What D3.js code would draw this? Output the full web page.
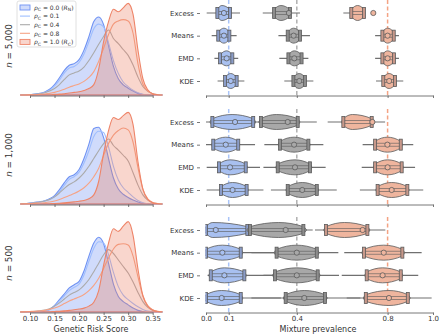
<!DOCTYPE html>
<html>
<head>
<meta charset="utf-8">
<script src="https://cdn.jsdelivr.net/npm/d3@7"></script>
<style>
  body { margin: 0; background: #fff; }
  text { font-family: "DejaVu Sans", sans-serif; fill: #333; }
</style>
</head>
<body>
<div id="chart"></div>
<script>
// ---- data ----
var sizes = ["5,000", "1,000", "500"];
var methods = ["Excess", "Means", "EMD", "KDE"];
var truePrev = [0.1, 0.4, 0.8];
var grsTicks = [0.10, 0.15, 0.20, 0.25, 0.30, 0.35];
var prevTicks = [0.0, 0.1, 0.4, 0.8, 1.0];
var legendLabels = ["0.0", "0.1", "0.4", "0.8", "1.0"];

// genetic risk score grid for the density curves
var grsGrid = [0.08, 0.09, 0.10, 0.11, 0.12, 0.13, 0.14, 0.15, 0.16, 0.17, 0.18, 0.19, 0.20, 0.21, 0.22,
               0.23, 0.24, 0.25, 0.26, 0.27, 0.28, 0.29, 0.30, 0.31, 0.32, 0.33, 0.34, 0.35, 0.36, 0.37];

// densities, n = 5,000
var d5000_00 = [0, 0, 0.05, 0.16, 0.26, 0.47, 0.88, 1.61, 2.65, 3.79, 4.57, 4.83, 5.45, 6.9, 8.98, 11.3, 12.0, 10.8, 7.6, 4.4, 2.5, 1.55, 1.05, 0.6, 0.25, 0.07, 0, 0, 0, 0];
var d5000_01 = [0, 0, 0.05, 0.1, 0.2, 0.4, 0.75, 1.4, 2.3, 3.4, 4.15, 4.4, 5.0, 6.3, 8.2, 10.2, 10.9, 10.5, 8.0, 5.3, 3.3, 2.0, 1.3, 0.75, 0.35, 0.12, 0.03, 0, 0, 0];
var d5000_04 = [0, 0, 0.05, 0.1, 0.2, 0.35, 0.6, 1.0, 1.6, 2.4, 3.1, 3.4, 3.7, 4.3, 5.3, 6.5, 7.8, 9.0, 10.0, 8.7, 7.9, 7.0, 6.1, 4.6, 2.75, 1.3, 0.57, 0.2, 0.05, 0];
var d5000_08 = [0, 0, 0.02, 0.05, 0.1, 0.15, 0.25, 0.4, 0.6, 0.9, 1.2, 1.45, 1.7, 2.1, 2.7, 3.6, 5.2, 7.2, 9.3, 10.9, 11.4, 11.6, 11.4, 9.5, 4.8, 1.7, 0.6, 0.2, 0.05, 0];
var d5000_10 = [0, 0, 0, 0, 0, 0.02, 0.05, 0.1, 0.15, 0.2, 0.3, 0.4, 0.5, 0.7, 1.0, 1.6, 4.0, 8.2, 11.3, 13.2, 12.8, 13.4, 14.1, 12.4, 6.9, 2.5, 0.8, 0.2, 0.05, 0];

// densities, n = 1,000
var d1000_00 = [0, 0.05, 0.15, 0.25, 0.35, 0.5, 0.8, 1.3, 2.2, 3.3, 4.2, 4.5, 5.3, 7.0, 9.2, 11.6, 11.8, 10.2, 7.0, 4.0, 2.3, 1.5, 1.0, 0.6, 0.3, 0.1, 0.03, 0, 0, 0];
var d1000_01 = [0, 0.05, 0.12, 0.2, 0.3, 0.45, 0.7, 1.1, 1.9, 2.9, 3.8, 4.2, 4.9, 6.3, 8.2, 10.4, 11.2, 11.0, 8.8, 5.8, 3.7, 2.5, 1.8, 1.1, 0.55, 0.2, 0.05, 0, 0, 0];
var d1000_04 = [0, 0.05, 0.1, 0.2, 0.3, 0.45, 0.7, 1.1, 1.7, 2.4, 3.0, 3.4, 4.0, 4.8, 5.8, 7.0, 8.2, 9.3, 10.0, 9.0, 8.3, 7.5, 6.6, 4.8, 2.9, 1.4, 0.6, 0.2, 0.05, 0];
var d1000_08 = [0, 0.03, 0.06, 0.1, 0.15, 0.2, 0.3, 0.45, 0.7, 1.0, 1.3, 1.6, 2.0, 2.5, 3.2, 4.2, 5.5, 7.5, 9.3, 10.6, 11.3, 11.7, 11.4, 9.5, 5.6, 2.3, 0.8, 0.25, 0.07, 0];
var d1000_10 = [0, 0, 0, 0, 0, 0.02, 0.05, 0.08, 0.12, 0.18, 0.25, 0.33, 0.42, 0.55, 0.8, 1.4, 3.5, 7.8, 11.3, 13.3, 13.0, 13.6, 14.1, 12.2, 6.5, 2.3, 0.7, 0.2, 0.05, 0];

// densities, n = 500
var d500_00 = [0, 0, 0.03, 0.06, 0.1, 0.2, 0.4, 1.0, 1.9, 2.8, 3.7, 4.2, 4.7, 6.3, 8.6, 10.6, 11.5, 10.5, 7.5, 4.3, 2.4, 1.6, 1.1, 0.6, 0.25, 0.08, 0, 0, 0, 0];
var d500_01 = [0, 0, 0.03, 0.06, 0.1, 0.2, 0.4, 0.9, 1.7, 2.5, 3.3, 3.8, 4.3, 5.7, 7.8, 9.8, 10.8, 10.6, 8.8, 6.1, 3.9, 2.6, 1.9, 1.3, 0.8, 0.4, 0.15, 0.05, 0, 0];
var d500_04 = [0, 0.02, 0.05, 0.1, 0.18, 0.3, 0.5, 0.9, 1.4, 2.0, 2.6, 3.0, 3.4, 4.1, 5.0, 6.2, 7.5, 8.8, 9.6, 9.0, 8.0, 7.0, 6.0, 4.6, 3.0, 1.6, 0.7, 0.25, 0.07, 0];
var d500_08 = [0.02, 0.04, 0.08, 0.12, 0.18, 0.25, 0.4, 0.6, 0.9, 1.3, 1.7, 2.0, 2.3, 2.7, 3.3, 4.1, 5.2, 6.7, 8.3, 9.7, 10.4, 10.5, 10.3, 8.6, 5.4, 2.5, 1.0, 0.35, 0.1, 0.03];
var d500_10 = [0, 0, 0, 0, 0, 0.02, 0.04, 0.08, 0.12, 0.18, 0.25, 0.35, 0.45, 0.6, 0.9, 1.5, 3.3, 7.2, 10.6, 12.8, 12.4, 13.2, 13.9, 11.8, 6.6, 2.5, 0.9, 0.3, 0.08, 0];

// estimated prevalences: per method, per true prevalence
// [whisker low, box low, violin peak, box high, whisker high, marker]
var est5000 = [
  [[0.003, 0.05, 0.07, 0.106, 0.15, 0.079], [0.25, 0.30, 0.33, 0.37, 0.414, 0.365], [0.605, 0.64, 0.668, 0.696, 0.70, 0.737]],
  [[0.025, 0.054, 0.079, 0.103, 0.135, 0.079], [0.319, 0.36, 0.386, 0.414, 0.458, 0.386], [0.745, 0.777, 0.80, 0.827, 0.85, 0.80]],
  [[0.037, 0.062, 0.091, 0.116, 0.142, 0.091], [0.323, 0.363, 0.389, 0.421, 0.451, 0.389], [0.745, 0.777, 0.80, 0.828, 0.85, 0.80]],
  [[0.051, 0.084, 0.109, 0.135, 0.169, 0.109], [0.345, 0.385, 0.411, 0.436, 0.473, 0.411], [0.749, 0.781, 0.807, 0.833, 0.869, 0.807]]
];
var est1000 = [
  [[0.0, 0.028, 0.115, 0.208, 0.23, 0.128], [0.23, 0.242, 0.31, 0.404, 0.488, 0.36], [0.536, 0.605, 0.645, 0.73, 0.789, 0.733]],
  [[0.0, 0.032, 0.087, 0.142, 0.216, 0.087], [0.257, 0.326, 0.388, 0.451, 0.517, 0.388], [0.69, 0.745, 0.799, 0.858, 0.913, 0.799]],
  [[0.003, 0.057, 0.106, 0.175, 0.238, 0.106], [0.253, 0.316, 0.392, 0.458, 0.527, 0.392], [0.686, 0.745, 0.80, 0.862, 0.921, 0.80]],
  [[0.003, 0.066, 0.117, 0.179, 0.253, 0.117], [0.286, 0.36, 0.424, 0.488, 0.576, 0.424], [0.678, 0.756, 0.818, 0.887, 0.957, 0.818]]
];
var est500 = [
  [[0.0, 0.0, 0.03, 0.182, 0.19, 0.043], [0.188, 0.194, 0.32, 0.429, 0.47, 0.351], [0.48, 0.529, 0.61, 0.711, 0.79, 0.69]],
  [[0.0, 0.0, 0.072, 0.153, 0.30, 0.072], [0.20, 0.311, 0.40, 0.488, 0.583, 0.40], [0.609, 0.696, 0.783, 0.865, 0.95, 0.783]],
  [[0.007, 0.021, 0.081, 0.169, 0.30, 0.081], [0.253, 0.304, 0.40, 0.492, 0.586, 0.40], [0.598, 0.708, 0.778, 0.858, 0.935, 0.778]],
  [[0.0, 0.0, 0.069, 0.153, 0.33, 0.069], [0.20, 0.351, 0.433, 0.524, 0.68, 0.433], [0.62, 0.704, 0.806, 0.889, 0.994, 0.806]]
];

function init() {
  var w = 440;
  var h = 334;

  var curveColors = ["#6f92f3", "#9ebeff", "#aaaaaa", "#f6a385", "#ee8468"];
  var violinColors = ["#a8c0f0", "#a8a8a8", "#efb59e"];
  var barColors = ["#8a9cc8", "#8c8c8c", "#c8988a"];
  var lineColors = ["#a9c4f8", "#b0b0b0", "#f4a384"];
  var edge = "#5a5a5a";

  var densities = [
    [d5000_00, d5000_01, d5000_04, d5000_08, d5000_10],
    [d1000_00, d1000_01, d1000_04, d1000_08, d1000_10],
    [d500_00, d500_01, d500_04, d500_08, d500_10]
  ];
  var estimates = [est5000, est1000, est500];
  var baselines = [95, 204, 312];

  var svg = d3.select("#chart")
      .append("svg")
      .attr("width", w)
      .attr("height", h);

  var xL = d3.scaleLinear().domain([0.10, 0.35]).range([30, 152.7]);
  var xR = d3.scaleLinear().domain([0, 1]).range([206, 433]);

  svg.append("clipPath").attr("id", "clipR")
    .append("rect").attr("x", xR(0) - 0.6).attr("y", 0).attr("width", 240).attr("height", h);

  sizes.forEach(function(size, p) {
    var base = baselines[p];
    var last = p === sizes.length - 1;

    // ---------- left: densities ----------
    var yD = d3.scaleLinear().domain([0, 14]).range([base, base - 91]);
    var area = d3.area()
        .x(function(d, i) { return xL(grsGrid[i]); })
        .y0(base)
        .y1(function(d) { return yD(d); })
        .curve(d3.curveMonotoneX);
    var line = d3.line()
        .x(function(d, i) { return xL(grsGrid[i]); })
        .y(function(d) { return yD(d); })
        .curve(d3.curveMonotoneX);

    var gL = svg.append("g");
    densities[p].forEach(function(vals, k) {
      if (k === 0 || k === 4) {
        gL.append("path")
          .attr("d", area(vals))
          .attr("fill", curveColors[k])
          .attr("fill-opacity", 0.33)
          .attr("stroke", curveColors[k])
          .attr("stroke-width", 1.1);
      } else {
        gL.append("path")
          .attr("d", line(vals))
          .attr("fill", "none")
          .attr("stroke", curveColors[k])
          .attr("stroke-width", 1.1);
      }
    });

    var axL = svg.append("g")
        .attr("transform", "translate(0," + (base + 0.5) + ")")
        .call(d3.axisBottom(xL).tickValues(grsTicks).tickSize(2.5).tickPadding(1.5).tickSizeOuter(0)
          .tickFormat(last ? d3.format(".2f") : ""));
    axL.select(".domain").attr("stroke", "#555").attr("stroke-width", 0.8);
    axL.selectAll(".tick line").attr("stroke", "#555").attr("stroke-width", 0.8);
    axL.selectAll("text").style("font-size", "7px").attr("fill", "#333");

    // row label
    var lab = svg.append("text")
        .attr("transform", "translate(12," + (base - 49) + ") rotate(-90)")
        .attr("text-anchor", "middle")
        .style("font-size", "8.8px");
    lab.append("tspan").style("font-style", "italic").text("n");
    lab.append("tspan").text(" = " + size);

    // ---------- right: violins ----------
    var yRow = d3.scalePoint().domain(methods).range([base - 82, base - 14]);

    var gR = svg.append("g");

    // true prevalence lines
    truePrev.forEach(function(tp, g) {
      gR.append("line")
        .attr("x1", xR(tp)).attr("x2", xR(tp))
        .attr("y1", base - 95).attr("y2", base)
        .attr("stroke", lineColors[g])
        .attr("stroke-width", 1.5)
        .attr("stroke-dasharray", "4,2.5");
    });

    var vArea = d3.area()
        .x(function(d) { return xR(d[0]); })
        .curve(d3.curveMonotoneX);

    methods.forEach(function(m, mi) {
      var y = yRow(m);
      estimates[p][mi].forEach(function(r, g) {
        var col = violinColors[g];
        var span = r[3] - r[1];
        var pts = [[r[1] - 0.06 * span, 0], [r[1], 0.45], [r[2], 1], [r[3], 0.45], [r[3] + 0.06 * span, 0]];
        var vg = gR.append("g").attr("clip-path", "url(#clipR)");

        vg.append("line")
          .attr("x1", xR(r[0])).attr("x2", xR(r[4]))
          .attr("y1", y).attr("y2", y)
          .attr("stroke", "#707070").attr("stroke-width", 1.2);

        vArea.y0(function(d) { return y + 7.5 * d[1]; })
             .y1(function(d) { return y - 7.5 * d[1]; });
        vg.append("path")
          .attr("d", vArea(pts))
          .attr("fill", col)
          .attr("stroke", edge)
          .attr("stroke-width", 0.8);

        vg.append("rect")
          .attr("x", xR(r[1])).attr("width", xR(r[3]) - xR(r[1]))
          .attr("y", y - 1.5).attr("height", 3)
          .attr("fill", col).attr("stroke", edge).attr("stroke-width", 0.6);

        [r[1], r[3]].forEach(function(v) {
          vg.append("rect")
            .attr("x", xR(v) - 1.5).attr("width", 3)
            .attr("y", y - 5.5).attr("height", 11)
            .attr("fill", barColors[g]).attr("stroke", edge).attr("stroke-width", 0.8);
        });

        vg.append("circle")
          .attr("cx", xR(r[5])).attr("cy", y).attr("r", 2.6)
          .attr("fill", col).attr("stroke", edge).attr("stroke-width", 0.8);
      });
    });

    var axY = svg.append("g")
        .attr("transform", "translate(200,0)")
        .call(d3.axisLeft(yRow).tickSize(3));
    axY.select(".domain").remove();
    axY.selectAll(".tick line").attr("stroke", "#555").attr("stroke-width", 0.8);
    axY.selectAll("text").style("font-size", "7px").attr("fill", "#333");

    var axR = svg.append("g")
        .attr("transform", "translate(0," + (base + 0.5) + ")")
        .call(d3.axisBottom(xR).tickValues(prevTicks).tickSize(2.5).tickPadding(1.5).tickSizeOuter(0)
          .tickFormat(last ? d3.format(".1f") : ""));
    axR.select(".domain").attr("stroke", "#555").attr("stroke-width", 0.8);
    axR.selectAll(".tick line").attr("stroke", "#555").attr("stroke-width", 0.8);
    axR.selectAll("text").style("font-size", "7px").attr("fill", "#333");
  });

  // axis titles
  svg.append("text").attr("x", 91).attr("y", 332).attr("text-anchor", "middle")
    .style("font-size", "8px").text("Genetic Risk Score");
  svg.append("text").attr("x", 318).attr("y", 332).attr("text-anchor", "middle")
    .style("font-size", "8px").text("Mixture prevalence");

  // legend
  var lg = svg.append("g").attr("transform", "translate(17,1)");
  lg.append("rect").attr("width", 59).attr("height", 46).attr("rx", 2)
    .attr("fill", "#fff").attr("fill-opacity", 0.85)
    .attr("stroke", "#d8d8d8").attr("stroke-width", 0.8);
  legendLabels.forEach(function(lbl, k) {
    var ly = 6.5 + k * 8.6;
    if (k === 0 || k === 4) {
      lg.append("rect").attr("x", 3).attr("y", ly - 2.5).attr("width", 10).attr("height", 5)
        .attr("fill", curveColors[k]).attr("fill-opacity", 0.33)
        .attr("stroke", curveColors[k]).attr("stroke-width", 0.9);
    } else {
      lg.append("line").attr("x1", 3).attr("x2", 13).attr("y1", ly).attr("y2", ly)
        .attr("stroke", curveColors[k]).attr("stroke-width", 1.1);
    }
    var t = lg.append("text").attr("x", 17).attr("y", ly + 2.2).style("font-size", "6px");
    t.append("tspan").style("font-style", "italic").text("ρ");
    t.append("tspan").attr("dy", 1.4).style("font-size", "4.5px").text("C");
    t.append("tspan").attr("dy", -1.4).text(" = " + lbl);
    if (k === 0 || k === 4) {
      t.append("tspan").text(" (");
      t.append("tspan").style("font-style", "italic").text("R");
      t.append("tspan").attr("dy", 1.4).style("font-size", "4.5px").text(k === 0 ? "N" : "C");
      t.append("tspan").attr("dy", -1.4).text(")");
    }
  });
}

window.onload = init;
</script>
</body>
</html>
